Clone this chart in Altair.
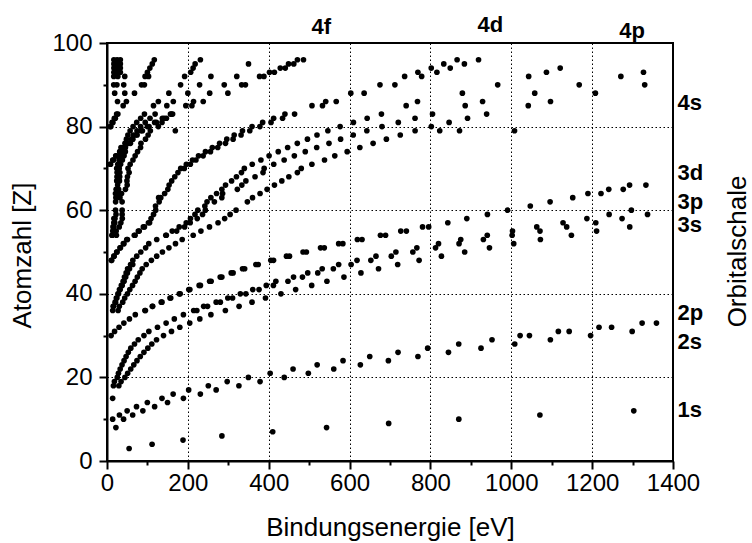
import altair as alt
import pandas as pd

# ---------------- data: binding energy [eV] per atomic number Z, by orbital ----------------
s1 = {3: 54.7, 4: 111.5, 5: 188, 6: 284.2, 7: 409.9, 8: 543.1, 9: 696.7, 10: 870.2, 11: 1070.8, 12: 1303.0}

s2 = {8: 22, 10: 41, 11: 63.5, 12: 88.7, 13: 117.8, 14: 149.7, 15: 189, 16: 230.9, 17: 270, 18: 326.3,
      19: 378.6, 20: 438.4, 21: 498.0, 22: 560.9, 23: 626.7, 24: 696.0, 25: 769.1, 26: 844.6, 27: 925.1,
      28: 1008.6, 29: 1096.7, 30: 1196.2, 31: 1299.0}

p2_half = {10: 14, 11: 30.7, 12: 49.8, 13: 73.0, 14: 99.8, 15: 136, 16: 163.6, 17: 202, 18: 250.6, 19: 297.3,
           20: 349.7, 21: 403.6, 22: 460.2, 23: 519.8, 24: 583.8, 25: 649.9, 26: 719.9, 27: 793.2, 28: 870.0,
           29: 952.3, 30: 1044.9, 31: 1143.2, 32: 1248.1, 33: 1359.1}
p2_3half = {30: 1021.8, 31: 1116.4, 32: 1217.0, 33: 1323.6}

s3 = {18: 29.3, 19: 34.8, 20: 44.3, 21: 51.1, 22: 58.7, 23: 66.3, 24: 74.1, 25: 82.3, 26: 91.3, 27: 101.0,
      28: 110.8, 29: 122.5, 30: 139.8, 31: 159.5, 32: 180.1, 33: 204.7, 34: 229.6, 35: 257, 36: 292.8,
      37: 326.7, 38: 358.7, 39: 392.0, 40: 430.3, 41: 466.6, 42: 506.3, 43: 544, 44: 586.1, 45: 628.1,
      46: 671.6, 47: 719.0, 48: 772.0, 49: 827.2, 50: 884.7, 51: 946, 52: 1006, 53: 1072, 54: 1148.7,
      55: 1211, 56: 1293}

p3_half = {15: 14, 18: 15.9, 19: 18.3, 20: 25.4, 21: 28.3, 22: 32.6, 23: 37.2, 24: 42.2, 25: 47.2, 26: 52.7,
           27: 58.9, 28: 68.0, 29: 77.3, 30: 91.4, 31: 103.5, 32: 124.9, 33: 146.2, 34: 166.5, 35: 189,
           36: 222.2, 37: 248.7, 38: 280.3, 39: 310.6, 40: 343.5, 41: 376.1, 42: 411.6, 43: 447.6, 44: 483.5,
           45: 521.3, 46: 559.9, 47: 603.8, 48: 652.6, 49: 703.2, 50: 756.5, 51: 812.7, 52: 870.8, 53: 931,
           54: 1002.1, 55: 1071, 56: 1137, 57: 1209, 58: 1274, 59: 1337}
p3_3half = {36: 214.4, 37: 239.1, 38: 270.0, 39: 298.8, 40: 329.8, 41: 360.6, 42: 394.0, 43: 417.7, 44: 461.4,
            45: 496.5, 46: 532.3, 47: 573.0, 48: 618.4, 49: 665.3, 50: 714.6, 51: 766.4, 52: 820.0, 53: 875,
            54: 940.6, 55: 1003, 56: 1063, 57: 1128, 58: 1187, 59: 1242, 60: 1297}

d3_3half = {30: 10.2, 31: 18.7, 32: 29.8, 33: 41.7, 34: 55.5, 35: 70, 36: 95.0, 37: 113.0, 38: 136.0,
            39: 157.7, 40: 181.1, 41: 205.0, 42: 231.1, 43: 257.6, 44: 284.2, 45: 311.9, 46: 340.5, 47: 374.0,
            48: 411.9, 49: 451.4, 50: 493.2, 51: 537.5, 52: 583.4, 53: 630.8, 54: 689.0, 55: 740.5, 56: 795.7,
            57: 843, 58: 890, 59: 941, 60: 991, 61: 1047, 62: 1096, 63: 1152, 64: 1221.9, 65: 1276.9, 66: 1333}
d3_5half = {36: 93.8, 37: 112, 38: 134.2, 39: 155.8, 40: 178.8, 41: 202.3, 42: 227.9, 43: 253.9, 44: 280.0,
            45: 307.2, 46: 335.2, 47: 368.3, 48: 405.2, 49: 443.9, 50: 484.9, 51: 528.2, 52: 573.0, 53: 619.3,
            54: 676.4, 55: 726.6, 56: 780.5, 64: 1189.6, 65: 1241.1, 66: 1292.6}

s4 = {36: 27.5, 37: 30.5, 38: 38.9, 39: 43.8, 40: 50.6, 41: 56.4, 42: 63.2, 43: 69.5, 44: 75.0, 45: 81.4,
      46: 87.1, 47: 97.0, 48: 109.8, 49: 122.9, 50: 137.1, 51: 153.2, 52: 169.4, 53: 186, 54: 213.2,
      55: 232.3, 56: 253.5, 57: 274.7, 58: 291.0, 59: 304.5, 60: 319.2, 62: 347.2, 63: 360, 64: 378.6,
      65: 396.0, 66: 414.2, 67: 432.4, 68: 449.8, 69: 470.9, 70: 480.5, 71: 506.8, 72: 538, 73: 563.4,
      74: 594.1, 75: 625.4, 76: 658.2, 77: 691.1, 78: 725.4, 79: 762.1, 80: 802.2, 81: 846.2, 82: 891.8,
      83: 939, 85: 1042, 86: 1097, 88: 1208, 90: 1330}

p4_half = {36: 14.1, 37: 16.3, 38: 21.3, 39: 24.4, 40: 28.5, 41: 32.6, 42: 37.6, 43: 42.3, 44: 46.3, 45: 50.5,
           46: 55.7, 47: 63.7, 48: 63.9, 49: 73.5, 50: 83.6, 51: 95.6, 52: 103.3, 53: 123, 54: 146.7,
           55: 172.4, 56: 192, 57: 205.8, 58: 223.2, 59: 236.3, 60: 243.3, 61: 242, 62: 265.6, 63: 284,
           64: 286, 65: 322.4, 66: 333.5, 67: 343.5, 68: 366.2, 69: 385.9, 70: 388.7, 71: 412.4, 72: 438.2,
           73: 463.4, 74: 490.4, 75: 518.7, 76: 549.1, 77: 577.8, 78: 609.1, 79: 642.7, 80: 680.2, 81: 720.5,
           82: 761.9, 83: 805.2, 85: 886, 86: 929, 88: 1058, 90: 1168, 92: 1271, 93: 1327}
p4_3half = {37: 15.3, 38: 20.1, 39: 23.1, 40: 27.1, 41: 30.8, 42: 35.5, 43: 39.9, 44: 43.2, 45: 47.3,
            46: 50.9, 47: 58.3, 54: 145.5, 55: 161.3, 56: 178.6, 57: 196.0, 58: 206.5, 59: 217.6, 60: 224.6,
            62: 247.4, 63: 257, 64: 271, 65: 284.1, 66: 293.2, 67: 308.2, 68: 320.2, 69: 332.6, 70: 339.7,
            71: 359.2, 72: 380.7, 73: 400.9, 74: 423.6, 75: 446.8, 76: 470.7, 77: 495.8, 78: 519.4,
            79: 546.3, 80: 576.6, 81: 609.5, 82: 643.5, 83: 678.8, 85: 740, 86: 768, 88: 879, 90: 966.4,
            92: 1043.0, 93: 1087, 94: 1121}

d4_3half = {48: 11.7, 49: 17.7, 50: 24.9, 51: 33.3, 52: 41.9, 53: 50.6, 54: 69.5, 55: 79.8, 56: 92.6,
            57: 105.3, 58: 109, 59: 115.1, 60: 120.5, 61: 120, 62: 129, 63: 133, 65: 150.5, 66: 153.6,
            67: 160, 68: 167.6, 69: 175.5, 70: 191.2, 71: 206.1, 72: 220.0, 73: 237.9, 74: 255.9, 75: 273.9,
            76: 293.1, 77: 311.9, 78: 331.6, 79: 353.2, 80: 378.2, 81: 405.7, 82: 434.3, 83: 464.0, 85: 533,
            86: 567, 88: 636, 90: 712.1, 92: 778.3, 93: 816, 94: 849, 95: 884, 96: 919}
d4_5half = {48: 10.7, 49: 16.9, 50: 23.9, 51: 32.1, 52: 40.4, 53: 48.9, 54: 67.5, 55: 77.5, 56: 89.9,
            57: 102.5, 63: 127.7, 64: 142.6, 70: 182.4, 71: 196.3, 72: 211.5, 73: 226.4, 74: 243.5,
            75: 260.5, 76: 278.5, 77: 296.3, 78: 314.6, 79: 335.1, 80: 358.8, 81: 385.0, 82: 412.2,
            83: 440.1, 85: 507, 86: 541, 88: 603, 90: 675.2, 92: 736.2, 93: 769, 94: 802, 95: 833, 96: 866}

f4_5half = {71: 8.9, 72: 15.9, 73: 23.5, 74: 33.6, 75: 42.9, 76: 53.4, 77: 63.8, 78: 74.5, 79: 87.6,
            80: 104.0, 81: 122.2, 82: 141.7, 83: 162.3, 85: 210, 86: 238, 88: 299, 90: 342.4, 92: 388.2,
            93: 414, 94: 441, 95: 462, 96: 486}
f4_7half = {71: 7.5, 72: 14.2, 73: 21.6, 74: 31.4, 75: 40.5, 76: 50.7, 77: 60.8, 78: 71.2, 79: 84.0,
            80: 99.9, 81: 117.8, 82: 136.9, 83: 157.0, 90: 333.1, 92: 377.4, 93: 402, 94: 428.6, 95: 449,
            96: 471}

s5 = {54: 23.3, 55: 22.7, 56: 30.3, 57: 34.3, 58: 37.8, 59: 37.4, 60: 37.5, 62: 37.4, 63: 32, 64: 36,
      65: 45.6, 66: 49.9, 67: 49.3, 68: 50.6, 69: 54.7, 70: 52.0, 71: 57.3, 72: 64.2, 73: 69.7, 74: 75.6,
      75: 83, 76: 84, 77: 95.2, 78: 101.7, 79: 107.2, 80: 127, 81: 136.0, 82: 147, 83: 159.3, 85: 195,
      86: 214, 88: 254, 90: 290, 92: 321, 95: 350}
p5_half = {54: 13.4, 55: 14.2, 56: 17.0, 57: 19.3, 58: 19.8, 59: 22.3, 60: 21.1, 62: 21.3, 63: 22, 64: 28,
           65: 28.7, 66: 26.3, 67: 30.8, 68: 31.4, 69: 31.8, 70: 30.3, 71: 33.6, 72: 38, 73: 42.2, 74: 45.3,
           75: 45.6, 76: 58, 77: 63.0, 78: 65.3, 79: 74.2, 80: 83.1, 81: 94.6, 82: 106.4, 83: 119.0,
           85: 148, 86: 164, 88: 200, 90: 229, 92: 257}
p5_3half = {54: 12.1, 56: 14.8, 57: 16.8, 58: 17.0, 64: 21, 65: 22.6, 67: 24.1, 68: 24.7, 69: 25.0, 70: 24.1,
            71: 26.7, 72: 29.9, 73: 32.7, 74: 36.8, 75: 34.6, 76: 44.5, 77: 48.0, 78: 51.7, 79: 57.2,
            80: 64.5, 81: 73.5, 82: 83.3, 83: 92.6, 85: 115, 86: 127, 88: 153, 90: 182, 92: 192, 93: 207,
            94: 213, 95: 218, 96: 231}

d5_3half = {80: 9.6, 81: 14.7, 82: 20.7, 83: 26.9, 85: 40, 86: 48, 88: 68, 90: 92.5, 92: 102.8, 93: 100,
            94: 106, 95: 112, 96: 117}
d5_5half = {80: 7.8, 81: 12.5, 82: 18.1, 83: 23.8, 90: 85.4, 92: 94.2}

s6 = {86: 26, 88: 44, 90: 41.4, 92: 43.9, 93: 33, 94: 33, 95: 33, 96: 33}
p6_half = {88: 19, 90: 24.5, 92: 26.8, 93: 25, 94: 25, 95: 25, 96: 25}
p6_3half = {90: 16.6, 92: 16.8, 93: 17, 94: 17, 95: 17, 96: 17}

extra = {79: [169, 823, 872, 1008]}

# labels of the orbital shells
right_names = ["4s", "3d", "3p", "3s", "2p", "2s", "1s"]
right_Z = [85.7, 68.9, 62.2, 56.6, 35.5, 28.7, 12.4]
top_names = ["4f", "4d", "4p"]
top_E = [530, 948, 1299]
top_Z = [102.2, 102.6, 101.2]

# ---------------- build table ----------------
series = {"1s": s1, "2s": s2, "2p1/2": p2_half, "2p3/2": p2_3half, "3s": s3, "3p1/2": p3_half,
          "3p3/2": p3_3half, "3d3/2": d3_3half, "3d5/2": d3_5half, "4s": s4, "4p1/2": p4_half,
          "4p3/2": p4_3half, "4d3/2": d4_3half, "4d5/2": d4_5half, "4f5/2": f4_5half, "4f7/2": f4_7half,
          "5s": s5, "5p1/2": p5_half, "5p3/2": p5_3half, "5d3/2": d5_3half, "5d5/2": d5_5half,
          "6s": s6, "6p1/2": p6_half, "6p3/2": p6_3half}
rows = []
for name, d in series.items():
    for z, e in d.items():
        rows.append({"orbital": name, "Z": z, "E": e})
for z, es in extra.items():
    for e in es:
        rows.append({"orbital": "?", "Z": z, "E": e})
df = pd.DataFrame(rows)
top_df = pd.DataFrame({"name": top_names, "E": top_E, "Z": top_Z})

FONT = "Liberation Sans"

major_x = "datum.value % 200 == 0"
major_y = "datum.value % 20 == 0"

x_axis = alt.Axis(
    values=list(range(0, 1401, 100)), format="d",
    labelExpr=f"{major_x} ? datum.label : ''", labelOverlap=False, labelPadding=2, labelFlush=False,
    tickSize={"condition": {"test": major_x, "value": 8}, "value": 4},
    grid=True, gridColor="black", gridWidth=1, gridDash=[1.5, 2.5],
    gridOpacity={"condition": {"test": f"{major_x} && datum.value > 0 && datum.value < 1400", "value": 1}, "value": 0},
    title="Bindungsenergie [eV]", titleX=283, titleY=66, titleAlign="center", titleBaseline="middle",
)
y_axis = alt.Axis(
    values=list(range(0, 101, 10)),
    labelExpr=f"{major_y} ? datum.label : ''", labelOverlap=False, labelPadding=7, labelFlush=False,
    tickSize={"condition": {"test": major_y, "value": 8}, "value": 4},
    grid=True, gridColor="black", gridWidth=1, gridDash=[1.5, 2.5],
    gridOpacity={"condition": {"test": f"{major_y} && datum.value > 0 && datum.value < 100", "value": 1}, "value": 0},
    title="Atomzahl [Z]", titleX=-85, titleY=212, titleAngle=270, titleAlign="center", titleBaseline="middle",
)

expr = ""
for v, n in zip(right_Z, right_names):
    expr += f"abs(datum.value - {v}) < 0.01 ? '{n}' : "
expr += "''"
right_axis = alt.Axis(
    orient="right", values=right_Z, labelExpr=expr, labelFontWeight="bold", labelFontSize=22,
    labelPadding=4, ticks=False, domain=False, grid=False, labelOverlap=False, labelFlush=False,
    title="Orbitalschale", titleX=64, titleY=208, titleAngle=270, titleAlign="center", titleBaseline="middle",
)

xs = alt.Scale(domain=[0, 1400], nice=False)
ys = alt.Scale(domain=[0, 100], nice=False)

points = alt.Chart(df).mark_circle(size=32, color="black", opacity=1).encode(
    x=alt.X("E:Q", scale=xs, axis=x_axis),
    y=alt.Y("Z:Q", scale=ys, axis=y_axis),
)

top_labels = alt.Chart(top_df).mark_text(
    font=FONT, fontSize=22, fontWeight="bold", color="black", align="center", baseline="alphabetic"
).encode(
    x=alt.X("E:Q", scale=xs),
    y=alt.Y("Z:Q", scale=ys, axis=right_axis),
    text="name:N",
)

chart = alt.layer(points, top_labels).resolve_scale(y="independent").properties(
    width=566, height=418,
    autosize=alt.AutoSizeParams(type="none"),
    padding={"left": 107, "top": 43, "right": 79, "bottom": 82},
).configure_axis(
    labelFont=FONT, titleFont=FONT, labelFontSize=24, titleFontSize=26, titleFontWeight="normal",
    labelColor="black", titleColor="black", domainColor="black", domainWidth=2,
    tickColor="black", tickWidth=2,
).configure_view(stroke="black", strokeWidth=2)

chart.save("out.html", embed_options={"renderer": "svg", "actions": False})
